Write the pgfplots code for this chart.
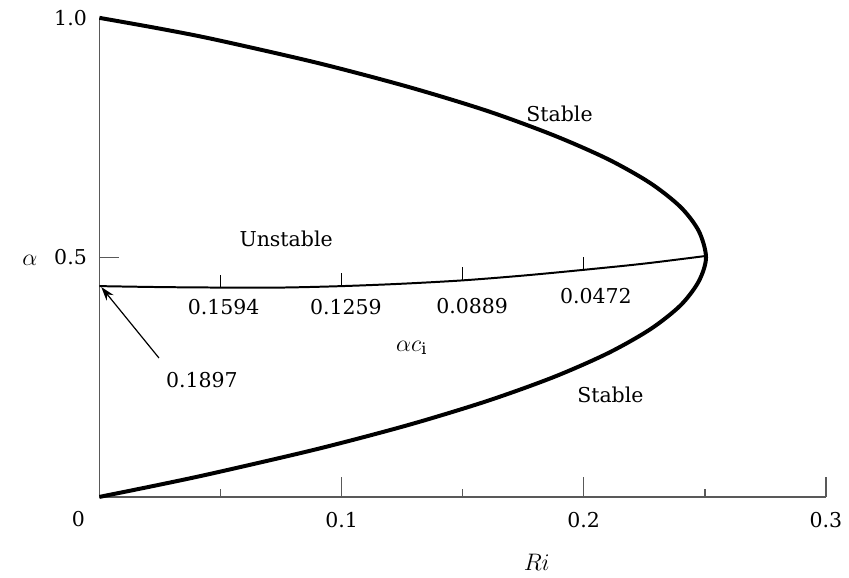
\documentclass[border=0pt]{standalone}
\usepackage{pgfplots}
\pgfplotsset{compat=1.18}
\usetikzlibrary{arrows.meta}
\usepackage{fontspec}
\setmainfont{DejaVu Serif}

\begin{document}
\fontsize{10.3}{12}\selectfont
\begin{tikzpicture}
\begin{axis}[
    width=365.5pt, height=241pt, scale only axis,
    xmin=0, xmax=0.3, ymin=0, ymax=1,
    clip=false,
    axis x line*=bottom, axis y line*=left,
    axis line style={-, black!65, line width=0.7pt},
    every tick/.style={black!65, line width=0.7pt},
    tick align=inside,
    major tick length=10pt, minor tick length=4pt,
    xtick={0.1,0.2,0.3}, minor xtick={0.05,0.15,0.25},
    ytick={0.5}, yticklabels={0.5},
    /pgf/number format/assume math mode=true,
    xticklabel style={yshift=-3.9pt},
    yticklabel style={xshift=-2.7pt},
]
% invisible frame fixing the page size
\path (rel axis cs:-0.1368,-0.168) rectangle (rel axis cs:1.0246,1.0373);

% neutral curve Ri = alpha(1-alpha)
\addplot[black, line width=2pt, smooth] coordinates {
(0,0) (0.0244,0.025) (0.0475,0.05) (0.0900,0.1) (0.1275,0.15) (0.16,0.2)
(0.1875,0.25) (0.21,0.3) (0.2275,0.35) (0.24,0.4) (0.2475,0.45) (0.2505,0.5)
(0.2475,0.555) (0.24,0.605) (0.2275,0.655) (0.21,0.705) (0.1875,0.755)
(0.16,0.806) (0.1275,0.856) (0.09,0.906) (0.0475,0.955) (0.0244,0.978) (0,1)
};

% maximum growth rate curve
\addplot[black, line width=1pt, smooth] coordinates {
(0,0.440) (0.025,0.438) (0.05,0.437) (0.075,0.437) (0.1,0.440) (0.125,0.445)
(0.15,0.452) (0.175,0.462) (0.2,0.474) (0.225,0.487) (0.2505,0.503)
};

% small ticks on that curve
\addplot[draw=none, mark=none, black, line width=0.7pt,
  error bars/.cd, y dir=plus, y explicit, error mark=none,
  error bar style={black, line width=0.7pt}]
  coordinates {
  (0.05,0.437) +- (0,0.027)
  (0.1,0.440) +- (0,0.027)
  (0.15,0.452) +- (0,0.027)
  (0.2,0.474) +- (0,0.027)
};

\node at (axis cs:0.19,0.80) {Stable};
\node at (axis cs:0.0771,0.539) {Unstable};
\node at (axis cs:0.211,0.212) {Stable};
\node at (axis cs:0.129,0.311) {\large$\alpha c_{\mathrm{i}}$};
\node at (axis cs:0.0513,0.396) {0.1594};
\node at (axis cs:0.1018,0.396) {0.1259};
\node at (axis cs:0.1539,0.398) {0.0889};
\node at (axis cs:0.205,0.419) {0.0472};
\node at (axis cs:0.0423,0.243) {0.1897};
\draw[-{Stealth[length=7pt,width=4.5pt]}, line width=0.6pt]
  (axis cs:0.0246,0.29) -- (axis cs:0.0008,0.438);

\node[anchor=east, xshift=-2.7pt] at (axis cs:0,1) {1.0};
\node[xshift=-10.5pt, yshift=-11pt] at (axis cs:0,0) {0};
\node[xshift=-35pt] at (axis cs:0,0.494) {\large$\alpha$};
\node[yshift=-33pt] at (axis cs:0.1806,0) {\large$Ri$};
\end{axis}
\end{tikzpicture}
\end{document}
